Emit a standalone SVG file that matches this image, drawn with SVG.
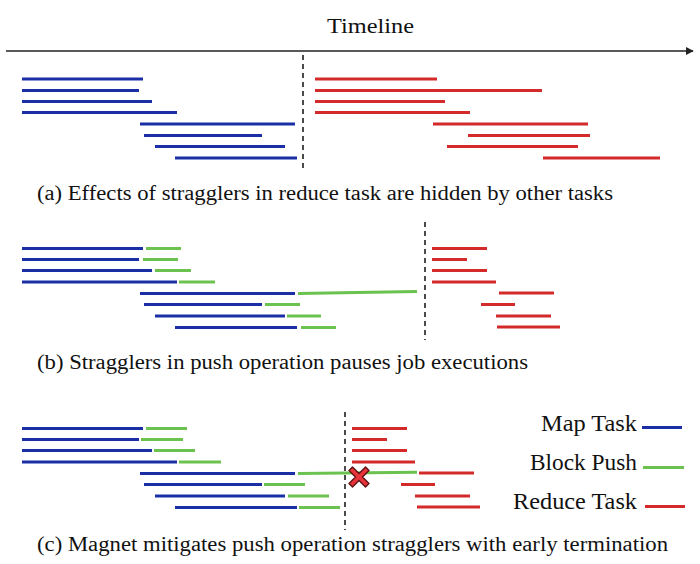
<svg xmlns="http://www.w3.org/2000/svg" width="700" height="564" viewBox="0 0 700 564">
<defs>
<marker id="arr" viewBox="0 0 10 10" refX="9" refY="5" markerWidth="8" markerHeight="8" markerUnits="userSpaceOnUse" orient="auto">
<path d="M0,0 L10,5 L0,10 z" fill="#222"/>
</marker>
</defs>
<style>
text{font-family:"Liberation Serif","DejaVu Serif",serif;fill:#111}
.cap{font-size:20.5px}
.leg{font-size:23px}
.m{stroke:#1a2ea6;stroke-width:3;fill:none}
.p{stroke:#6cc24e;stroke-width:3;fill:none}
.r{stroke:#d42a2a;stroke-width:3;fill:none}
.d{stroke:#111;stroke-width:1.5;stroke-dasharray:5 4;fill:none}
</style>
<rect width="700" height="564" fill="#fff"/>
<g id="timeline">
<line x1="6" y1="51" x2="693" y2="51" stroke="#222" stroke-width="1.5" marker-end="url(#arr)"/>
<text x="327" y="33" font-size="22" textLength="87" lengthAdjust="spacingAndGlyphs">Timeline</text>
</g>
<g id="panel-a">
<g class="m">
<line x1="22" y1="79" x2="143" y2="79"/>
<line x1="22" y1="90.5" x2="139" y2="90.5"/>
<line x1="22" y1="101.5" x2="152" y2="101.5"/>
<line x1="22" y1="112.5" x2="177" y2="112.5"/>
<line x1="140" y1="124" x2="295" y2="124"/>
<line x1="144" y1="135.5" x2="262" y2="135.5"/>
<line x1="155" y1="146.5" x2="285" y2="146.5"/>
<line x1="175" y1="158" x2="297" y2="158"/>
</g>
<line class="d" x1="303" y1="55" x2="303" y2="172"/>
<g class="r">
<line x1="315" y1="79" x2="437" y2="79"/>
<line x1="315" y1="90.5" x2="542" y2="90.5"/>
<line x1="315" y1="101.5" x2="445" y2="101.5"/>
<line x1="315" y1="112.5" x2="470" y2="112.5"/>
<line x1="433" y1="124" x2="588" y2="124"/>
<line x1="468" y1="135.5" x2="590" y2="135.5"/>
<line x1="447" y1="146.5" x2="578" y2="146.5"/>
<line x1="543" y1="158" x2="660" y2="158"/>
</g>
<text class="cap" x="37" y="200" textLength="576" lengthAdjust="spacingAndGlyphs">(a) Effects of stragglers in reduce task are hidden by other tasks</text>
</g>
<g id="panel-b">
<g class="m">
<line x1="22" y1="248.5" x2="143" y2="248.5"/>
<line x1="22" y1="259.5" x2="139" y2="259.5"/>
<line x1="22" y1="270.5" x2="152" y2="270.5"/>
<line x1="22" y1="282" x2="177" y2="282"/>
<line x1="140" y1="293.5" x2="295" y2="293.5"/>
<line x1="144" y1="304.5" x2="262" y2="304.5"/>
<line x1="155" y1="316" x2="285" y2="316"/>
<line x1="175" y1="327.5" x2="297" y2="327.5"/>
</g>
<g class="p">
<line x1="146" y1="248.5" x2="181" y2="248.5"/>
<line x1="143" y1="259.5" x2="178" y2="259.5"/>
<line x1="155" y1="270.5" x2="191" y2="270.5"/>
<line x1="179" y1="282" x2="215" y2="282"/>
<line x1="298" y1="293.5" x2="417" y2="291.5"/>
<line x1="265" y1="304.5" x2="300" y2="304.5"/>
<line x1="287" y1="316" x2="321" y2="316"/>
<line x1="301" y1="327.5" x2="336" y2="327.5"/>
</g>
<line class="d" x1="425" y1="222" x2="425" y2="340"/>
<g class="r">
<line x1="432" y1="248.5" x2="487" y2="248.5"/>
<line x1="432" y1="259.5" x2="467" y2="259.5"/>
<line x1="432" y1="270.5" x2="487" y2="270.5"/>
<line x1="432" y1="282" x2="496" y2="282"/>
<line x1="499" y1="293" x2="554" y2="293"/>
<line x1="481" y1="304.5" x2="515" y2="304.5"/>
<line x1="496" y1="316" x2="551" y2="316"/>
<line x1="497" y1="327" x2="560" y2="327"/>
</g>
<text class="cap" x="37" y="369" textLength="491" lengthAdjust="spacingAndGlyphs">(b) Stragglers in push operation pauses job executions</text>
</g>
<g id="panel-c">
<g class="m">
<line x1="22" y1="428.5" x2="143" y2="428.5"/>
<line x1="22" y1="439.5" x2="139" y2="439.5"/>
<line x1="22" y1="450.5" x2="152" y2="450.5"/>
<line x1="22" y1="462" x2="177" y2="462"/>
<line x1="140" y1="473.5" x2="295" y2="473.5"/>
<line x1="144" y1="484.5" x2="262" y2="484.5"/>
<line x1="155" y1="496" x2="285" y2="496"/>
<line x1="175" y1="507.5" x2="297" y2="507.5"/>
</g>
<g class="p">
<line x1="146" y1="428.5" x2="187" y2="428.5"/>
<line x1="141" y1="439.5" x2="183" y2="439.5"/>
<line x1="154" y1="450.5" x2="195" y2="450.5"/>
<line x1="179" y1="462" x2="221" y2="462"/>
<line x1="298" y1="473.5" x2="417" y2="472.3"/>
<line x1="264" y1="484.5" x2="305" y2="484.5"/>
<line x1="288" y1="496" x2="329" y2="496"/>
<line x1="299" y1="507.5" x2="340" y2="507.5"/>
</g>
<line class="d" x1="345" y1="412" x2="345" y2="530"/>
<g class="r">
<line x1="352" y1="428.5" x2="407" y2="428.5"/>
<line x1="352" y1="439.5" x2="387" y2="439.5"/>
<line x1="352" y1="450.5" x2="407" y2="450.5"/>
<line x1="352" y1="462" x2="415" y2="462"/>
<line x1="419" y1="473" x2="474" y2="473"/>
<line x1="401" y1="484.5" x2="435" y2="484.5"/>
<line x1="415" y1="496" x2="470" y2="496"/>
<line x1="417" y1="507" x2="480" y2="507"/>
</g>
<g id="terminate-mark" transform="translate(359,477)">
<path d="M-6.5,-10 L0,-3.5 L6.5,-10 L10,-6.5 L3.5,0 L10,6.5 L6.5,10 L0,3.5 L-6.5,10 L-10,6.5 L-3.5,0 L-10,-6.5 Z" fill="#e8333a" stroke="#5a1212" stroke-width="1.4" stroke-linejoin="round"/>
</g>
<text class="cap" x="37" y="551" textLength="631" lengthAdjust="spacingAndGlyphs">(c) Magnet mitigates push operation stragglers with early termination</text>
</g>
<g id="legend">
<text class="leg" x="637" y="431" text-anchor="end" textLength="96" lengthAdjust="spacingAndGlyphs">Map Task</text>
<line class="m" x1="642" y1="427.5" x2="682" y2="427.5"/>
<text class="leg" x="637" y="470" text-anchor="end" textLength="107" lengthAdjust="spacingAndGlyphs">Block Push</text>
<line class="p" x1="643" y1="467.5" x2="684" y2="467.5"/>
<text class="leg" x="637" y="509" text-anchor="end" textLength="124" lengthAdjust="spacingAndGlyphs">Reduce Task</text>
<line class="r" x1="645" y1="506.5" x2="685" y2="506.5"/>
</g>
</svg>
